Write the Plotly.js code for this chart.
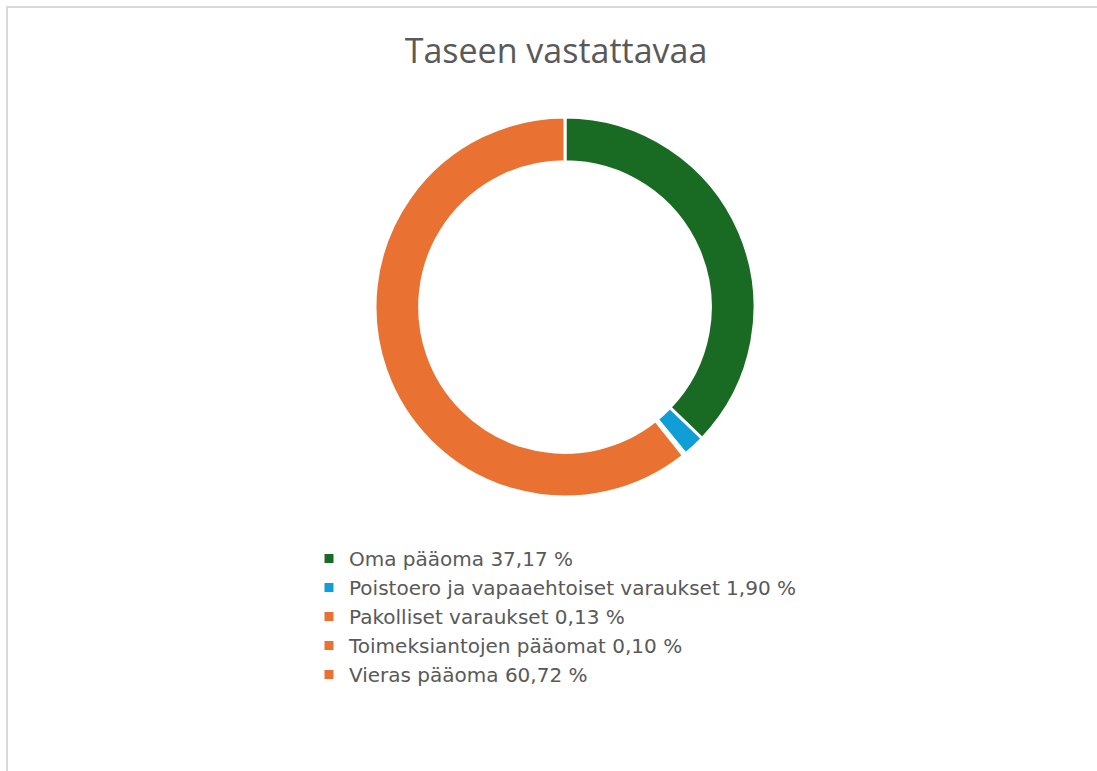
<!DOCTYPE html>
<html>
<head>
<meta charset="utf-8">
<script src="https://cdn.plot.ly/plotly-3.0.1.min.js"></script>
<style>
  html, body { margin: 0; padding: 0; background: #ffffff; }
  #wrap { position: relative; width: 1097px; height: 771px; overflow: hidden; }
  #chart { position: absolute; left: 0; top: 0; width: 1097px; height: 771px; }
  #frame { position: absolute; left: 6px; top: 6px; width: 1200px; height: 900px;
           border-top: 2px solid #d9d9d9; border-left: 2px solid #d9d9d9; pointer-events: none; }
</style>
</head>
<body>
<div id="wrap">
  <div id="chart"></div>
  <div id="frame"></div>
</div>
<script>
const categories = [
  "Oma pääoma",
  "Poistoero ja vapaaehtoiset varaukset",
  "Pakolliset varaukset",
  "Toimeksiantojen pääomat",
  "Vieras pääoma"
];
const values = [37.17, 1.90, 0.13, 0.10, 60.72];
const valueLabels = ["37,17 %", "1,90 %", "0,13 %", "0,10 %", "60,72 %"];
const colors = ["#196B24", "#0F9ED5", "#E97132", "#E97132", "#E97132"];

const legendNames = categories.map((c, i) => c + " " + valueLabels[i]);

const trace = {
  type: "pie",
  labels: legendNames,
  values: values,
  hole: 0.765,
  sort: false,
  direction: "clockwise",
  rotation: 0,
  textinfo: "none",
  hoverinfo: "skip",
  marker: { colors: colors, line: { color: "#ffffff", width: 3 } },
  domain: { x: [375 / 1097, 755 / 1097], y: [1 - 497 / 771, 1 - 117 / 771] }
};

const layout = {
  width: 1097,
  height: 771,
  margin: { l: 0, r: 0, t: 0, b: 0 },
  paper_bgcolor: "#ffffff",
  plot_bgcolor: "#ffffff",
  font: { family: "DejaVu Sans, sans-serif", color: "#595959" },
  title: {
    text: "Taseen vastattavaa",
    font: { size: 34, color: "#595959", family: "Open Sans, sans-serif" },
    x: 556 / 1097, xanchor: "center",
    y: 1 - 51 / 771, yanchor: "middle"
  },
  showlegend: true,
  legend: {
    orientation: "v",
    x: 309 / 1097, xanchor: "left",
    y: 1 - 539 / 771, yanchor: "top",
    font: { size: 20, color: "#595959", family: "DejaVu Sans, sans-serif" },
    bgcolor: "rgba(0,0,0,0)",
    traceorder: "normal"
  }
};

Plotly.newPlot("chart", [trace], layout, { displayModeBar: false, staticPlot: true });
</script>
</body>
</html>
